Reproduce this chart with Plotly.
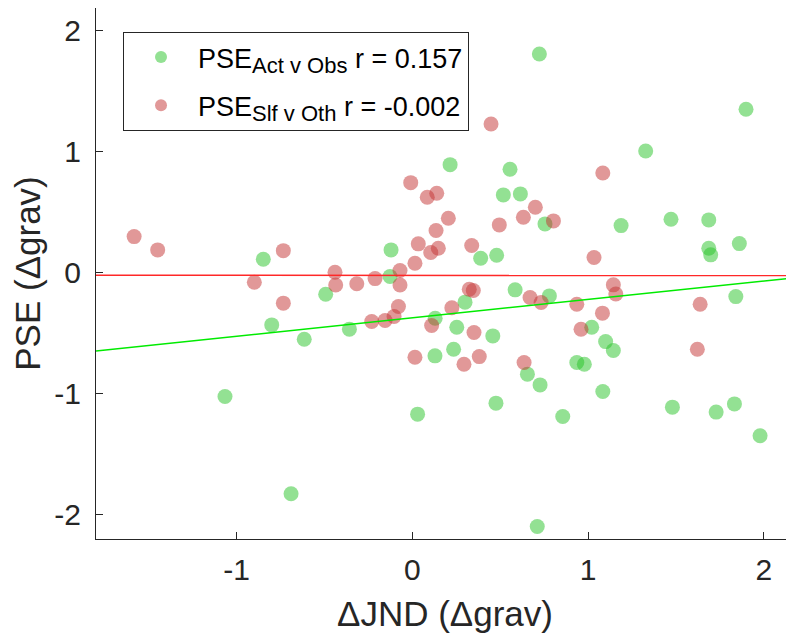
import plotly.graph_objects as go

# PSE Act v Obs (green)
act_jnd = [-0.848, -0.121, 0.215, 0.723, 1.899, 1.328, 0.556, 0.518, 0.615, 0.755,
           1.188, 1.472, 1.687, 0.389, 0.480, 1.687, 1.698, 1.861, 2.170, -0.127,
           -0.493, -0.800, -0.358, -0.615, 0.130, 0.129, 0.235, -1.066, 0.030, -0.690,
           0.585, 0.780, 0.300, 1.841, 0.253, 0.458, 0.655, 0.727, 1.021, 1.100,
           1.144, 0.936, 0.979, 0.476, 0.856, 1.084, 1.480, 1.729, 1.833, 1.979,
           0.711]
act_pse = [0.113, 0.190, 0.895, 1.810, 1.353, 1.008, 0.857, 0.645, 0.653, 0.405,
           0.391, 0.444, 0.438, 0.121, 0.146, 0.204, 0.149, 0.242, 0.217, -0.030,
           -0.176, -0.430, -0.465, -0.548, -0.375, -0.686, -0.631, -1.022, -1.168, -1.826,
           -0.140, -0.190, -0.242, -0.196, -0.449, -0.521, -0.837, -0.926, -0.449, -0.568,
           -0.642, -0.741, -0.755, -1.077, -1.187, -0.981, -1.110, -1.151, -1.083, -1.347,
           -2.097]

# PSE Slf v Oth (red)
slf_jnd = [-1.583, -1.449, -0.734, -0.009, 0.085, 0.139, 0.205, 0.135, 0.034, 0.148,
           0.105, 0.015, -0.070, -0.440, 0.448, 1.084, 0.700, 0.495, 0.632, 0.803,
           0.338, 1.034, -0.899, -0.436, -0.316, -0.212, -0.070, -0.734, -0.079, -0.104,
           -0.231, -0.155, 0.110, 0.225, 0.015, 0.324, 0.347, 0.670, 0.733, 0.936,
           1.144, 1.158, 1.082, 1.638, 0.351, 0.294, 0.381, 0.636, 0.960, 1.622]
slf_pse = [0.300, 0.190, 0.184, 0.746, 0.626, 0.659, 0.452, 0.350, 0.240, 0.204,
           0.168, 0.080, 0.020, 0.005, 1.231, 0.826, 0.543, 0.397, 0.460, 0.430,
           0.226, 0.127, -0.077, -0.100, -0.090, -0.047, -0.100, -0.250, -0.278, -0.361,
           -0.402, -0.394, -0.435, -0.288, -0.697, -0.135, -0.146, -0.204, -0.245, -0.259,
           -0.099, -0.174, -0.333, -0.259, -0.493, -0.755, -0.692, -0.741, -0.466, -0.631]

# regression lines
fit_x = [-1.8, 2.2]
act_fit = [-0.645, -0.037]
slf_fit = [-0.019, -0.022]

AXIS_COL = "#262626"
FONT = "Liberation Sans, Arial, sans-serif"
SUB = '<sub><span style="font-size:22px">%s</span></sub>'

fig = go.Figure()

fig.add_trace(go.Scatter(
    x=act_jnd, y=act_pse, mode="markers", legendgroup="act",
    name="PSE" + SUB % "Act v Obs" + " r = 0.157",
    marker=dict(size=15, color="rgb(40,195,40)", opacity=0.5, line=dict(width=0)),
))
fig.add_trace(go.Scatter(
    x=slf_jnd, y=slf_pse, mode="markers", legendgroup="slf",
    name="PSE" + SUB % "Slf v Oth" + " r = -0.002",
    marker=dict(size=15, color="rgb(195,50,50)", opacity=0.5, line=dict(width=0)),
))
fig.add_trace(go.Scatter(
    x=fit_x, y=act_fit, mode="lines", showlegend=False,
    line=dict(color="rgb(0,235,0)", width=1.5),
))
fig.add_trace(go.Scatter(
    x=fit_x, y=slf_fit, mode="lines", showlegend=False,
    line=dict(color="rgb(255,40,40)", width=1.5),
))

# page body keeps its 8px margin, so the figure is sized to fit inside it
fig.update_layout(
    width=786, height=625,
    margin=dict(l=88, r=0, t=0, b=94),
    plot_bgcolor="white", paper_bgcolor="white",
    font=dict(family=FONT, size=30, color=AXIS_COL),
    showlegend=True,
    legend=dict(
        x=0.0387, y=0.9548, xanchor="left", yanchor="top",
        bordercolor=AXIS_COL, borderwidth=1, bgcolor="white",
        font=dict(family=FONT, size=27, color="black"),
        itemsizing="constant", itemwidth=64, tracegroupgap=10,
    ),
    xaxis=dict(
        range=[-1.8, 2.172], tickvals=[-1, 0, 1, 2], ticktext=["-1", "0", "1", "2"],
        ticks="inside", ticklen=7, tickcolor=AXIS_COL, showline=True, linecolor=AXIS_COL,
        linewidth=1, showgrid=False, zeroline=False, automargin=False,
        ticklabelstandoff=4,
        title=dict(text="ΔJND (Δgrav)", font=dict(size=35), standoff=26),
    ),
    yaxis=dict(
        range=[-2.2, 2.19], tickvals=[-2, -1, 0, 1, 2], ticktext=["-2", "-1", "0", "1", "2"],
        ticks="inside", ticklen=7, tickcolor=AXIS_COL, showline=True, linecolor=AXIS_COL,
        linewidth=1, showgrid=False, zeroline=False, automargin=False,
        ticklabelstandoff=8,
        title=dict(text="PSE (Δgrav)", font=dict(size=35), standoff=10),
    ),
)

fig.write_html("out.html")
